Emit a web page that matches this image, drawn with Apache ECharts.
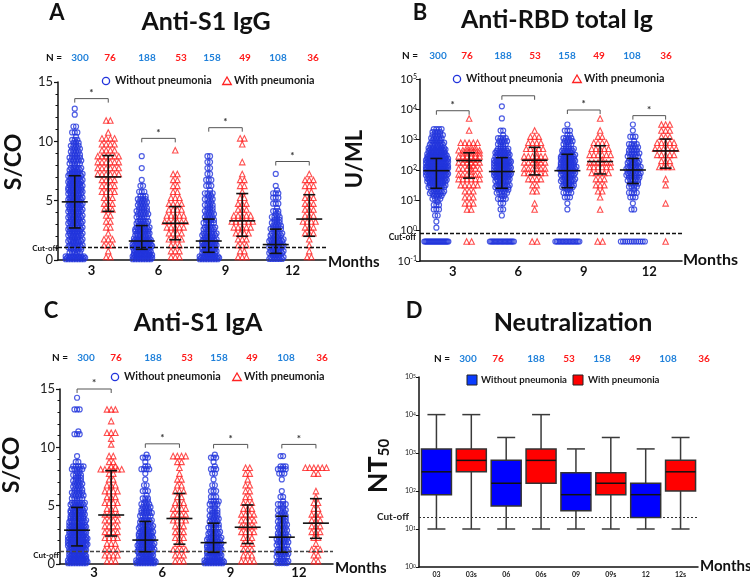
<!DOCTYPE html>
<html><head><meta charset="utf-8">
<script src="https://cdn.jsdelivr.net/npm/echarts@6/dist/echarts.min.js"></script>
<style>html,body{margin:0;padding:0;background:#fff}#c{width:750px;height:579px}</style>
</head><body><div id="c"></div>
<script>
// ================= DATA =================
const months = ['3', '6', '9', '12'];
const groupNames = ['Without pneumonia', 'With pneumonia'];
const nLabels = ['300', '76', '188', '53', '158', '49', '108', '36'];
const boxCats = ['03', '03s', '06', '06s', '09', '09s', '12', '12s'];

// Panel A - Anti-S1 IgG (S/CO): number of subjects per 0.5 S/CO bin, starting at 0
const igGBin = 0.5;
const igGBlue3 = [25,10,14,15,17,15,16,16,17,17,16,18,17,16,15,11,10,9,8,7,4,3,2,0,1,1];
const igGRed3 = [2,1,3,3,1,2,2,2,3,3,3,4,4,4,6,6,6,6,4,4,4,1,0,2];
const igGBlue6 = [32,22,25,22,18,15,12,10,9,8,7,3,2,1,0,1,0,1];
const igGRed6 = [3,3,3,4,4,5,6,5,4,4,3,2,2,2,2,0,0,0,1];
const igGBlue9 = [27,18,18,16,13,11,9,8,7,6,6,5,3,3,2,2,2,2];
const igGRed9 = [3,2,3,3,4,5,6,5,3,3,2,1,2,2,1,0,1,0,0,1,2];
const igGBlue12 = [15,14,16,14,11,9,7,6,4,3,3,4,1,0,1];
const igGRed12 = [2,1,1,1,3,3,4,3,3,3,3,2,3,3,1];
const igGMedian = [4.9, 7.0, 1.6, 3.1, 1.6, 3.3, 1.3, 3.45];
const igGLow = [2.7, 4.1, 0.9, 1.7, 0.65, 2.0, 0.56, 2.0];
const igGHigh = [7.1, 8.8, 2.9, 4.5, 3.45, 5.6, 2.6, 5.5];
const igGBracket = [13.6, 10.25, 11.15, 8.3];
const igGStar = [1, 1, 1, 1];
const igGCutoff = 1.05;

// Panel B - Anti-RBD total Ig (U/mL): counts per 0.2 log10 bin starting at 10^0, plus undetectable
const rbdBin = 0.2;
const rbdBlue3 = [1,1,2,3,4,8,14,20,28,34,38,36,30,22,16,10,8];
const rbdRed3 = [0,0,0,2,3,3,3,5,6,7,8,10,11,9,5,0,1,0,1];
const rbdBlue6 = [0,0,1,2,2,6,10,14,18,22,24,22,18,12,8,5,2,0,1,0,1];
const rbdRed6 = [0,0,0,1,1,0,2,2,4,6,7,8,7,5,4,3,1];
const rbdBlue9 = [0,0,0,1,1,3,6,12,15,18,20,18,16,12,8,6,3,1];
const rbdRed9 = [0,0,0,1,0,1,2,3,3,5,6,7,6,5,4,2,1,0,1];
const rbdBlue12 = [0,0,0,2,1,3,5,8,10,13,14,12,10,8,5,3,1,1];
const rbdRed12 = [0,0,0,0,1,0,0,1,1,0,4,3,5,6,5,3,3,3];
const rbdUndetect = [25, 2, 20, 2, 18, 2, 12, 1];
const rbdUndetValue = 0.44;
const rbdMedian = [95, 205, 89, 210, 95, 190, 100, 427];
const rbdLow = [25, 54, 25, 69, 26, 74, 36, 115];
const rbdHigh = [240, 370, 256, 560, 330, 630, 240, 1050];
const rbdBracket = [9000, 28000, 9500, 6200];
const rbdStar = [1, 0, 1, 1];
const rbdCutoff = 0.85;

// Panel C - Anti-S1 IgA (S/CO): counts per 0.5 S/CO bin starting at 0
const igABin = 0.5;
const igABlue3 = [31,22,24,25,25,24,22,20,18,15,13,10,9,8,7,6,10,2,1,0,0,0,4,0,0,0,3,0,1];
const igARed3 = [3,4,4,3,4,4,4,4,4,3,4,3,4,3,2,2,8,2,2,0,1,1,3,0,1,0,3];
const igABlue6 = [28,18,20,19,18,15,13,11,10,8,6,4,3,2,1,1,6,1,4];
const igARed6 = [3,3,4,2,3,3,3,4,4,4,3,2,3,2,2,1,1,2,4];
const igABlue9 = [25,18,18,16,13,11,9,8,7,5,8,3,3,2,1,2,4,1,4];
const igARed9 = [4,3,3,3,3,4,4,4,4,3,3,2,2,2,1,2,2];
const igABlue12 = [12,10,11,10,10,8,8,7,6,5,5,2,1,0,1,3,7,0,2];
const igARed12 = [2,2,3,1,2,3,3,3,3,2,2,1,1,0,0,2,6];
const igAMedian = [2.9, 4.2, 2.05, 3.9, 1.83, 3.15, 2.3, 3.5];
const igALow = [1.55, 2.4, 1.05, 1.7, 1.0, 1.75, 1.0, 2.2];
const igAHigh = [4.85, 8.0, 3.65, 6.05, 3.5, 5.06, 4.1, 5.6];
const igABracket = [15.0, 10.3, 10.25, 10.25];
const igAStar = [1, 1, 1, 1];
const igACutoff = 1.1;

// Panel D - Neutralization NT50 box plots
const ntMin = [10, 10, 10, 10, 10, 10, 10, 10];
const ntQ1 = [80, 320, 40, 160, 30, 80, 20, 100];
const ntMedian = [320, 640, 160, 640, 80, 160, 80, 320];
const ntQ3 = [1280, 1280, 640, 1280, 300, 300, 160, 640];
const ntMax = [10240, 10240, 2560, 10240, 1280, 2560, 1280, 2560];
const ntCutoff = 20;

// ================= STYLE / LAYOUT =================
const FONT = 'Lato, "Open Sans", sans-serif';
const BLUE = '#2234dc', RED = '#ff2323';
const NBLUE = '#1f80da', NRED = '#ff1a1a';
const grids = [
  {left: 58, top: 82, width: 268, height: 178},
  {left: 420, top: 79, width: 262, height: 182},
  {left: 60, top: 389, width: 273, height: 178},
  {left: 419, top: 377, width: 279, height: 190}
];

function swarm(counts, binW, cx, stepU, maxPerRow, grow, isLog) {
  const out = [];
  counts.forEach((n, b) => {
    if (!n) return;
    const perRow = grow ? Math.min(maxPerRow, Math.max(Math.min(n, 3), Math.ceil(Math.sqrt(2 * n)))) : Math.min(maxPerRow, n);
    const rows = Math.ceil(n / perRow);
    let left = n;
    for (let r = 0; r < rows; r++) {
      const k = Math.min(perRow, left); left -= k;
      const v = (b + (r + 0.5) / rows) * binW;
      const off = (rows > 1 && r % 2) ? stepU * 0.5 : 0;
      for (let j = 0; j < k; j++) out.push([cx + (j - (k - 1) / 2) * stepU + off, isLog ? Math.pow(10, v) : v]);
    }
  });
  return out;
}
function row(n, cx, y, maxWU, stepU) {
  const st = n > 1 ? Math.min(stepU, maxWU / (n - 1)) : 0;
  const out = [];
  for (let j = 0; j < n; j++) out.push([cx + (j - (n - 1) / 2) * st, y]);
  return out;
}

const panels = [
  {groups: [igGBlue3, igGRed3, igGBlue6, igGRed6, igGBlue9, igGRed9, igGBlue12, igGRed12], bin: igGBin, log: false,
   med: igGMedian, lo: igGLow, hi: igGHigh, br: igGBracket, star: igGStar, cut: igGCutoff},
  {groups: [rbdBlue3, rbdRed3, rbdBlue6, rbdRed6, rbdBlue9, rbdRed9, rbdBlue12, rbdRed12], bin: rbdBin, log: true,
   undet: rbdUndetect, undetVal: rbdUndetValue,
   med: rbdMedian, lo: rbdLow, hi: rbdHigh, br: rbdBracket, star: rbdStar, cut: rbdCutoff},
  {groups: [igABlue3, igARed3, igABlue6, igARed6, igABlue9, igARed9, igABlue12, igARed12], bin: igABin, log: false,
   med: igAMedian, lo: igALow, hi: igAHigh, br: igABracket, star: igAStar, cut: igACutoff}
];

function errRender(params, api) {
  const x = api.value(0);
  const pm = api.coord([x, api.value(1)]);
  const pl = api.coord([x, api.value(2)]);
  const ph = api.coord([x, api.value(3)]);
  const st = {stroke: '#111', lineWidth: 1.6};
  return {type: 'group', children: [
    {type: 'line', shape: {x1: pm[0] - 13, y1: pm[1], x2: pm[0] + 13, y2: pm[1]}, style: st},
    {type: 'line', shape: {x1: pl[0], y1: pl[1], x2: ph[0], y2: ph[1]}, style: st},
    {type: 'line', shape: {x1: pl[0] - 6, y1: pl[1], x2: pl[0] + 6, y2: pl[1]}, style: st},
    {type: 'line', shape: {x1: ph[0] - 6, y1: ph[1], x2: ph[0] + 6, y2: ph[1]}, style: st}
  ]};
}
function brRender(params, api) {
  const a = api.coord([api.value(0), api.value(2)]);
  const b = api.coord([api.value(1), api.value(2)]);
  const ch = [{type: 'polyline', shape: {points: [[a[0], a[1] + 4], [a[0], a[1]], [b[0], b[1]], [b[0], b[1] + 4]]},
    style: {stroke: '#555', lineWidth: 1, fill: null}}];
  if (api.value(3)) ch.push({type: 'text', x: (a[0] + b[0]) / 2, y: a[1] - 1,
    style: {text: '*', fill: '#333', font: 'bold 10px ' + FONT, textAlign: 'center', align: 'center', textVerticalAlign: 'bottom', verticalAlign: 'bottom'}});
  return {type: 'group', children: ch};
}
function boxRender(params, api) {
  const i = api.value(0);
  const c = k => api.coord([i, api.value(k)]);
  const pMin = c(1), pQ1 = c(2), pMed = c(3), pQ3 = c(4), pMax = c(5);
  const x = pMin[0], hw = 15, cw = 9;
  const fill = api.value(6) ? '#ff0000' : '#0000ff';
  const wl = {stroke: '#3a3a3a', lineWidth: 1.5};
  return {type: 'group', children: [
    {type: 'line', shape: {x1: x, y1: pMax[1], x2: x, y2: pQ3[1]}, style: wl},
    {type: 'line', shape: {x1: x, y1: pQ1[1], x2: x, y2: pMin[1]}, style: wl},
    {type: 'line', shape: {x1: x - cw, y1: pMax[1], x2: x + cw, y2: pMax[1]}, style: wl},
    {type: 'line', shape: {x1: x - cw, y1: pMin[1], x2: x + cw, y2: pMin[1]}, style: wl},
    {type: 'rect', shape: {x: x - hw, y: pQ3[1], width: 2 * hw, height: pQ1[1] - pQ3[1]}, style: {fill: fill, stroke: '#333', lineWidth: 1.5}},
    {type: 'line', shape: {x1: x - hw, y1: pMed[1], x2: x + hw, y2: pMed[1]}, style: {stroke: '#111', lineWidth: 1.5}}
  ]};
}

const xAxes = [], yAxes = [], series = [];
const axisLineStyle = {color: '#111', width: 1.5};
panels.forEach((p, g) => {
  const band = grids[g].width / 8;
  xAxes.push({type: 'value', gridIndex: g, min: 0, max: 8, show: false});
  xAxes.push({type: 'category', gridIndex: g, position: 'bottom', data: ['g0','g1','g2','g3','g4','g5','g6','g7'], boundaryGap: true,
    axisLine: {lineStyle: axisLineStyle}, axisTick: {alignWithLabel: true, length: 4, lineStyle: {color: '#111', width: 1.2}},
    axisLabel: {show: false}});
  xAxes.push({type: 'category', gridIndex: g, position: 'bottom', data: months, boundaryGap: true,
    axisLine: {show: false}, axisTick: {show: false},
    axisLabel: {fontSize: 13, fontWeight: 'bold', color: '#111', margin: g === 2 ? 2 : 4, interval: 0, fontFamily: FONT}});
  if (p.log) {
    yAxes.push({type: 'log', logBase: 10, gridIndex: g, min: 0.1, max: 100000,
      axisLine: {show: true, lineStyle: axisLineStyle}, axisTick: {show: true, length: 4, lineStyle: {color: '#111'}},
      splitLine: {show: false}, minorTick: {show: false}, minorSplitLine: {show: false},
      axisLabel: {margin: 3, color: '#111', formatter: v => '{b|10}{s|' + Math.round(Math.log10(v)) + '}',
        rich: {b: {fontSize: 11, fontFamily: FONT, color: '#111', verticalAlign: 'bottom'}, s: {fontSize: 7, fontFamily: FONT, color: '#111', verticalAlign: 'top'}}}});
  } else {
    yAxes.push({type: 'value', gridIndex: g, min: 0, max: 15, interval: 5,
      axisLine: {show: true, lineStyle: axisLineStyle}, axisTick: {show: true, length: 4, lineStyle: {color: '#111', width: 1.2}},
      minorTick: {show: true, splitNumber: 5, length: 2.5, lineStyle: {color: '#111'}},
      splitLine: {show: false},
      axisLabel: {fontSize: 13, color: '#222', margin: 5, fontFamily: FONT}});
  }
  const blueStep = 2.6 / band, redStep = 4.2 / band;
  const blueData = [], redData = [];
  p.groups.forEach((counts, gi) => {
    const cx = gi + 0.5;
    const isBlue = gi % 2 === 0;
    const pts = isBlue ? swarm(counts, p.bin, cx, blueStep, 9, true, p.log) : swarm(counts, p.bin, cx, redStep, 6, false, p.log);
    if (p.undet) pts.push(...row(p.undet[gi], cx, p.undetVal, (isBlue ? 24 : 20) / band, (isBlue ? 2.4 : 5) / band));
    (isBlue ? blueData : redData).push(...pts);
  });
  series.push({type: 'scatter', name: groupNames[0], xAxisIndex: 3 * g, yAxisIndex: g, data: blueData,
    symbol: 'circle', symbolSize: 5, progressive: 0, silent: true,
    itemStyle: {color: 'rgba(0,0,0,0)', borderColor: BLUE, borderWidth: 1.2}, z: 2});
  series.push({type: 'scatter', name: groupNames[1], xAxisIndex: 3 * g, yAxisIndex: g, data: redData,
    symbol: 'triangle', symbolSize: 5.5, progressive: 0, silent: true,
    itemStyle: {color: 'rgba(0,0,0,0)', borderColor: RED, borderWidth: 1.1}, z: 2});
  series.push({type: 'custom', xAxisIndex: 3 * g, yAxisIndex: g, renderItem: errRender, z: 5, silent: true,
    data: p.med.map((m, gi) => [gi + 0.5, m, p.lo[gi], p.hi[gi]]),
    markLine: {silent: true, symbol: 'none', label: {show: false},
      lineStyle: {type: [4, 2], color: g === 2 ? '#444' : '#111', width: 1.3}, data: [{yAxis: p.cut}]}});
  series.push({type: 'custom', xAxisIndex: 3 * g, yAxisIndex: g, renderItem: brRender, z: 5, silent: true,
    data: p.br.map((y, k) => [2 * k + 0.5, 2 * k + 1.5, y, p.star[k]])});
});
// Panel D axes & series
xAxes.push({type: 'category', gridIndex: 3, data: boxCats, boundaryGap: true,
  axisLine: {lineStyle: axisLineStyle}, axisTick: {alignWithLabel: true, length: 3, lineStyle: {color: '#111'}},
  axisLabel: {fontSize: 7, fontWeight: 'bold', color: '#222', margin: 4, interval: 0, fontFamily: FONT}});
yAxes.push({type: 'log', logBase: 10, gridIndex: 3, min: 1, max: 100000,
  axisLine: {show: true, lineStyle: axisLineStyle}, axisTick: {show: true, length: 3, lineStyle: {color: '#111'}},
  splitLine: {show: false}, minorTick: {show: false},
  axisLabel: {margin: 3, formatter: v => '{b|10}{s|' + Math.round(Math.log10(v)) + '}',
    rich: {b: {fontSize: 7, fontFamily: FONT, color: '#222', verticalAlign: 'bottom'}, s: {fontSize: 5, fontFamily: FONT, color: '#222', verticalAlign: 'top'}}}});
series.push({type: 'custom', xAxisIndex: 9, yAxisIndex: 3, renderItem: boxRender, silent: true,
  data: boxCats.map((c, i) => [i, ntMin[i], ntQ1[i], ntMedian[i], ntQ3[i], ntMax[i], i % 2]),
  markLine: {silent: true, symbol: 'none', label: {show: false},
    lineStyle: {type: [2, 2], color: '#333', width: 1.2}, data: [{yAxis: ntCutoff}]}});

// ================= TEXT =================
function txt(x, y, text, font, fill, align, extra) {
  return Object.assign({type: 'text', x: x, y: y, silent: true,
    style: {text: text, font: font, fill: fill || '#111', textAlign: align || 'center', align: align || 'center',
      textVerticalAlign: 'middle', verticalAlign: 'middle'}}, extra || {});
}
const graphics = [];
const titles = [
  [57, 13, 'A', 206, 22, 'Anti-S1 IgG'],
  [420, 13, 'B', 557, 20, 'Anti-RBD total Ig'],
  [51, 311, 'C', 198, 323, 'Anti-S1 IgA'],
  [414, 311, 'D', 573, 323, 'Neutralization']
];
titles.forEach(t => {
  graphics.push(txt(t[0], t[1], t[2], 'bold 22px ' + FONT));
  graphics.push(txt(t[3], t[4], t[5], 'bold 25px ' + FONT));
});
const nRows = [
  {y: 58, nx: 54, xs: [80, 110, 147, 181, 212, 245, 278, 313]},
  {y: 56, nx: 410, xs: [438, 467, 503, 535, 567, 599, 632, 666]},
  {y: 358, nx: 60, xs: [86, 116, 153, 187, 219, 252, 286, 322]},
  {y: 359, nx: 442, xs: [468, 498, 536, 569, 602, 635, 668, 704]}
];
nRows.forEach(r => {
  graphics.push(txt(r.nx, r.y, 'N =', 'bold 10px ' + FONT, '#111'));
  r.xs.forEach((x, i) => graphics.push(txt(x, r.y, nLabels[i], 'bold 10px ' + FONT, i % 2 ? NRED : NBLUE)));
});
// axis names
graphics.push(txt(14, 162, 'S/CO', 'bold 23px ' + FONT, '#111', 'center', {rotation: Math.PI / 2}));
graphics.push(txt(355, 159, 'U/ML', 'bold 22px ' + FONT, '#111', 'center', {rotation: Math.PI / 2}));
graphics.push(txt(12, 465, 'S/CO', 'bold 23px ' + FONT, '#111', 'center', {rotation: Math.PI / 2}));
graphics.push({type: 'text', x: 378, y: 466, rotation: Math.PI / 2, silent: true,
  style: {text: '{a|NT}{b|50}', textAlign: 'center', align: 'center', textVerticalAlign: 'middle', verticalAlign: 'middle',
    rich: {a: {font: 'bold 27px ' + FONT, fill: '#111', verticalAlign: 'bottom'}, b: {font: 'bold 15px ' + FONT, fill: '#111', verticalAlign: 'bottom'}}}});
// Months
graphics.push(txt(328, 262, 'Months', 'bold 15px ' + FONT, '#111', 'left'));
graphics.push(txt(683, 260, 'Months', 'bold 16px ' + FONT, '#111', 'left'));
graphics.push(txt(335, 568, 'Months', 'bold 15px ' + FONT, '#111', 'left'));
graphics.push(txt(700, 566, 'Months', 'bold 15px ' + FONT, '#111', 'left'));
// Cut-off labels
graphics.push(txt(58, 248, 'Cut-off', 'bold 8px ' + FONT, '#111', 'right'));
graphics.push(txt(416, 237, 'Cut-off', 'bold 8.5px ' + FONT, '#111', 'right'));
graphics.push(txt(59, 555, 'Cut-off', 'bold 8px ' + FONT, '#111', 'right'));
graphics.push(txt(409, 517, 'Cut-off', 'bold 10px ' + FONT, '#222', 'right'));

// Legends (key boxes drawn as graphics for exact size)
const LEGFONT = 'bold 10.8px ' + FONT;
const LEGFONT_D = 'bold 9.6px ' + FONT;
const hollowLegends = [
  {y: 81, c: 106, t1: 115, tri: 227, t2: 234},
  {y: 79, c: 457, t1: 466, tri: 577, t2: 584},
  {y: 377, c: 115, t1: 124, tri: 237, t2: 244}
];
hollowLegends.forEach(L => {
  graphics.push({type: 'circle', silent: true, shape: {cx: L.c, cy: L.y, r: 3.6}, style: {fill: 'none', stroke: BLUE, lineWidth: 1.3}});
  graphics.push(txt(L.t1, L.y, groupNames[0], LEGFONT, '#1a1a1a', 'left'));
  graphics.push({type: 'polygon', silent: true, shape: {points: [[L.tri, L.y - 4], [L.tri + 4.3, L.y + 3.5], [L.tri - 4.3, L.y + 3.5]]},
    style: {fill: 'none', stroke: RED, lineWidth: 1.3}});
  graphics.push(txt(L.t2, L.y, groupNames[1], LEGFONT, '#1a1a1a', 'left'));
});
graphics.push({type: 'rect', silent: true, shape: {x: 467, y: 375, width: 10, height: 10}, style: {fill: '#0a3cff', stroke: '#222', lineWidth: 1}});
graphics.push(txt(481, 380, groupNames[0], LEGFONT_D, '#1a1a1a', 'left'));
graphics.push({type: 'rect', silent: true, shape: {x: 573, y: 375, width: 10, height: 10}, style: {fill: '#ff0000', stroke: '#222', lineWidth: 1}});
graphics.push(txt(588, 380, groupNames[1], LEGFONT_D, '#1a1a1a', 'left'));

const chart = echarts.init(document.getElementById('c'), null, {renderer: 'canvas'});
chart.setOption({
  animation: false,
  backgroundColor: '#fff',
  textStyle: {fontFamily: FONT},
  grid: grids,
  xAxis: xAxes,
  yAxis: yAxes,
  series: series,
  graphic: graphics
});
</script></body></html>
